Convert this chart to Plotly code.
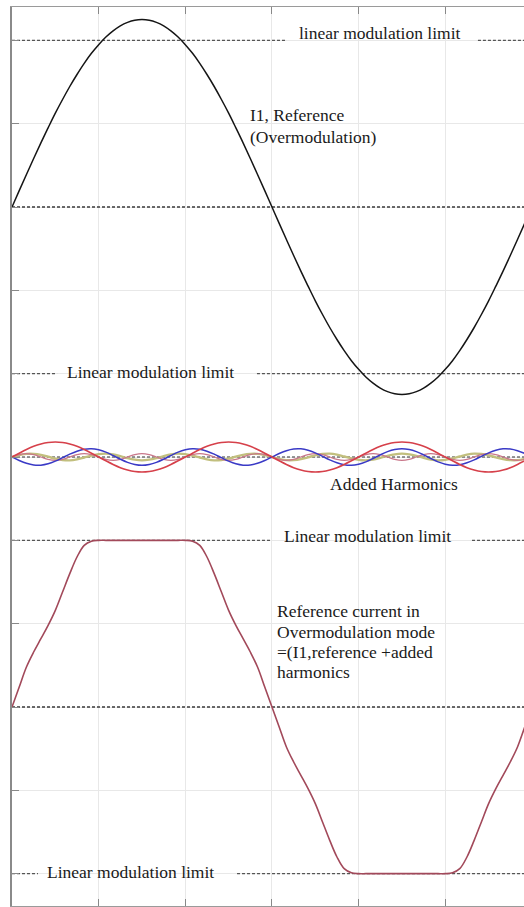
import plotly.graph_objects as go

# ---------------- data ----------------
angle_deg = list(range(0, 361, 5))  # electrical angle samples, degrees

# I1 reference (overmodulation), p.u. of linear modulation limit
i1_reference = [
    0.000, 0.098, 0.195, 0.291, 0.385, 0.475, 0.563, 0.645, 0.723, 0.795, 0.862, 0.922, 0.974, 1.020, 1.057, 1.087, 1.108, 1.121, 1.125,
    1.121, 1.108, 1.087, 1.057, 1.020, 0.974, 0.922, 0.862, 0.795, 0.723, 0.645, 0.563, 0.475, 0.385, 0.291, 0.195, 0.098, 0.000,
    -0.098, -0.195, -0.291, -0.385, -0.475, -0.563, -0.645, -0.723, -0.795, -0.862, -0.922, -0.974, -1.020, -1.057, -1.087, -1.108, -1.121, -1.125,
    -1.121, -1.108, -1.087, -1.057, -1.020, -0.974, -0.922, -0.862, -0.795, -0.723, -0.645, -0.563, -0.475, -0.385, -0.291, -0.195, -0.098, 0.000,
]

# added harmonics
harm_red = [
    0.000,
    0.023, 0.045, 0.064, 0.078, 0.087, 0.090, 0.087, 0.078, 0.064, 0.045, 0.023, 0.000,
    -0.023, -0.045, -0.064, -0.078, -0.087, -0.090, -0.087, -0.078, -0.064, -0.045, -0.023, 0.000,
    0.023, 0.045, 0.064, 0.078, 0.087, 0.090, 0.087, 0.078, 0.064, 0.045, 0.023, 0.000,
    -0.023, -0.045, -0.064, -0.078, -0.087, -0.090, -0.087, -0.078, -0.064, -0.045, -0.023, 0.000,
    0.023, 0.045, 0.064, 0.078, 0.087, 0.090, 0.087, 0.078, 0.064, 0.045, 0.023, 0.000,
    -0.023, -0.045, -0.064, -0.078, -0.087, -0.090, -0.087, -0.078, -0.064, -0.045, -0.023, 0.000,
]
harm_blue = [
    0.000, -0.021, -0.038, -0.048, -0.049, -0.041, -0.025, -0.004, 0.017, 0.035, 0.047, 0.050, 0.043,
    0.029, 0.009, -0.013, -0.032, -0.045, -0.050, -0.045, -0.032, -0.013, 0.009, 0.029, 0.043, 0.050,
    0.047, 0.035, 0.017, -0.004, -0.025, -0.041, -0.049, -0.048, -0.038, -0.021, 0.000,
    0.021, 0.038, 0.048, 0.049, 0.041, 0.025, 0.004, -0.017, -0.035, -0.047, -0.050, -0.043,
    -0.029, -0.009, 0.013, 0.032, 0.045, 0.050, 0.045, 0.032, 0.013, -0.009, -0.029, -0.043, -0.050,
    -0.047, -0.035, -0.017, 0.004, 0.025, 0.041, 0.049, 0.048, 0.038, 0.021, 0.000,
]
harm_olive = [
    0.000, 0.011, 0.019, 0.019, 0.013, 0.002, -0.010, -0.018, -0.020, -0.014, -0.003, 0.008, 0.017,
    0.020, 0.015, 0.005, -0.007, -0.016, -0.020, -0.016, -0.007, 0.005, 0.015, 0.020, 0.017, 0.008,
    -0.003, -0.014, -0.020, -0.018, -0.010, 0.002, 0.013, 0.019, 0.019, 0.011, 0.000,
    -0.011, -0.019, -0.019, -0.013, -0.002, 0.010, 0.018, 0.020, 0.014, 0.003, -0.008, -0.017,
    -0.020, -0.015, -0.005, 0.007, 0.016, 0.020, 0.016, 0.007, -0.005, -0.015, -0.020, -0.017, -0.008,
    0.003, 0.014, 0.020, 0.018, 0.010, -0.002, -0.013, -0.019, -0.019, -0.011, 0.000,
]
harm_pink = [
    0.000, 0.014, 0.020, 0.014, 0.000, -0.014, -0.020, -0.014,
    0.000, 0.014, 0.020, 0.014, 0.000, -0.014, -0.020, -0.014,
    0.000, 0.014, 0.020, 0.014, 0.000, -0.014, -0.020, -0.014,
    0.000, 0.014, 0.020, 0.014, 0.000, -0.014, -0.020, -0.014,
    0.000, 0.014, 0.020, 0.014, 0.000, -0.014, -0.020, -0.014,
    0.000, 0.014, 0.020, 0.014, 0.000, -0.014, -0.020, -0.014,
    0.000, 0.014, 0.020, 0.014, 0.000, -0.014, -0.020, -0.014,
    0.000, 0.014, 0.020, 0.014, 0.000, -0.014, -0.020, -0.014,
    0.000, 0.014, 0.020, 0.014, 0.000, -0.014, -0.020, -0.014,
    0.000,
]

# reference current in overmodulation mode (I1 reference + added harmonics)
i_overmod = [
    0.00, 0.12, 0.24, 0.33, 0.41, 0.49, 0.58, 0.69, 0.80, 0.90, 0.97, 0.995, 1.00, 1.00, 1.00, 1.00, 1.00, 1.00, 1.00,
    1.00, 1.00, 1.00, 1.00, 1.00, 1.00, 0.995, 0.97, 0.90, 0.80, 0.69, 0.58, 0.49, 0.41, 0.33, 0.24, 0.12, 0.00,
    -0.12, -0.24, -0.33, -0.41, -0.49, -0.58, -0.69, -0.80, -0.90, -0.97, -0.995, -1.00, -1.00, -1.00, -1.00, -1.00, -1.00, -1.00,
    -1.00, -1.00, -1.00, -1.00, -1.00, -1.00, -0.995, -0.97, -0.90, -0.80, -0.69, -0.58, -0.49, -0.41, -0.33, -0.24, -0.12, 0.00,
]

linear_limit = 1.0

# ---------------- layout constants ----------------
OFF_TOP = 3.0      # vertical offset of the I1 reference panel
OFF_HARM = 1.5     # vertical offset of the harmonics panel
OFF_BOT = 0.0      # vertical offset of the overmodulation panel
FONT = "Liberation Serif, Times New Roman, serif"
FSIZE = 17.5

fig = go.Figure()

def add_curve(values, offset, color, width, smoothing=1.0):
    fig.add_trace(go.Scatter(
        x=angle_deg, y=[v + offset for v in values], mode="lines",
        line=dict(color=color, width=width, shape="spline", smoothing=smoothing),
        hoverinfo="skip", showlegend=False))

# harmonics
add_curve(harm_olive, OFF_HARM, "#c2bf7e", 2.4)
add_curve(harm_pink, OFF_HARM, "#c9778a", 1.2)
add_curve(harm_blue, OFF_HARM, "#3a3ac6", 1.5)
add_curve(harm_red, OFF_HARM, "#d6404a", 1.6)
# main curves
add_curve(i1_reference, OFF_TOP, "#151515", 1.5)
add_curve(i_overmod, OFF_BOT, "#a2495a", 1.6, smoothing=1.0)

# dotted reference lines: (level, list of visible angle segments)
dotted = [
    (OFF_TOP + linear_limit, [(0, 190.4), (322.6, 360)], "#555", 1.1),
    (OFF_TOP, [(0, 360)], "#3a3a3a", 1.3),
    (OFF_TOP - linear_limit, [(0, 31.2), (169.6, 360)], "#555", 1.1),
    (OFF_HARM, [(0, 360)], "#333", 1.1),
    (OFF_BOT + linear_limit, [(0, 180.0), (318.5, 360)], "#555", 1.1),
    (OFF_BOT, [(0, 360)], "#3a3a3a", 1.3),
    (OFF_BOT - linear_limit, [(0, 18.0), (155.8, 360)], "#555", 1.1),
]
for level, segs, col, w in dotted:
    for x0, x1 in segs:
        fig.add_shape(type="line", xref="x", yref="y", x0=x0, x1=x1, y0=level, y1=level,
                      line=dict(color=col, width=w, dash="3px,2px"), layer="between")

def label(text, x, y, yshift=0):
    fig.add_annotation(text=text, x=x, y=y, xref="x", yref="y", xanchor="left", yanchor="middle",
                       yshift=yshift, showarrow=False, align="left",
                       font=dict(family=FONT, size=FSIZE, color="#1a1a1a"))

label("linear modulation limit", 197.3, OFF_TOP + linear_limit, yshift=7)
label("I1, Reference", 163.4, OFF_TOP + 0.552)
label("(Overmodulation)", 163.4, OFF_TOP + 0.420)
label("Linear modulation limit", 36.7, OFF_TOP - linear_limit, yshift=2)
label("Added Harmonics", 218.8, OFF_HARM - 0.162)
label("Linear modulation limit", 186.9, OFF_BOT + linear_limit, yshift=4)
label("Reference current in", 182.1, OFF_BOT + 0.576)
label("Overmodulation mode", 182.1, OFF_BOT + 0.450)
label("=(I1,reference +added", 182.1, OFF_BOT + 0.330)
label("harmonics", 182.1, OFF_BOT + 0.210)
label("Linear modulation limit", 22.8, OFF_BOT - linear_limit, yshift=2)

fig.update_layout(
    width=524, height=907,
    margin=dict(l=12, r=0, t=7, b=1),
    paper_bgcolor="white", plot_bgcolor="white",
    showlegend=False,
    xaxis=dict(range=[0, 354.5], tickvals=[60, 120, 180, 240, 300], showticklabels=False,
               showgrid=True, gridcolor="#e8e8e8", gridwidth=1, zeroline=False,
               showline=True, linecolor="#9a9a9a", linewidth=1, mirror="ticks",
               ticks="inside", ticklen=7, tickcolor="#888", fixedrange=True),
    yaxis=dict(range=[-1.194, 4.2], tickvals=[-1, -0.5, 0, 0.5, 1, 1.5, 2, 2.5, 3, 3.5, 4],
               showticklabels=False, showgrid=True, gridcolor="#e8e8e8", gridwidth=1,
               zeroline=False, showline=True, linecolor="#8a8a8a", linewidth=1.5, mirror=False,
               ticks="inside", ticklen=7, tickcolor="#888", fixedrange=True),
)

fig.write_html(
    "out.html",
    config={"displayModeBar": False},
    post_script="document.body.style.margin='0';document.body.style.overflow='hidden';",
)
